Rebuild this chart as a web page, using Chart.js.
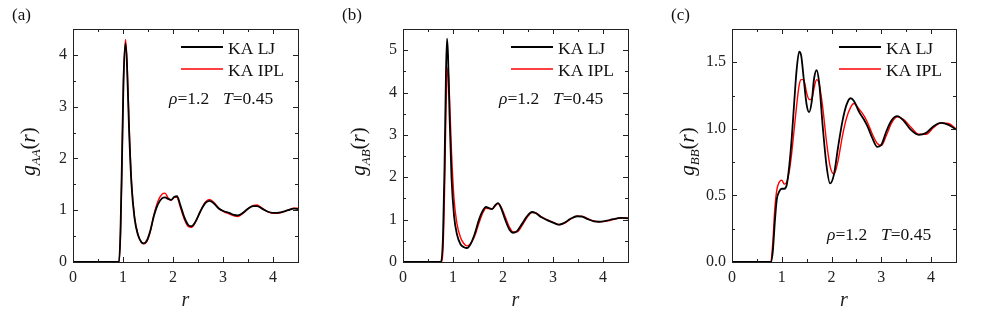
<!DOCTYPE html>
<html lang="en">
<head>
    <meta charset="UTF-8">
    <title>KA LJ vs KA IPL radial distribution functions</title>
    <script src="https://cdn.jsdelivr.net/npm/chart.js"></script>
    <style>
        body {
            margin: 0;
            padding: 0;
            background-color: #ffffff;
            width: 981px;
            height: 320px;
            position: relative;
            overflow: hidden;
        }
        canvas {
            position: absolute;
            top: 0;
        }
        #ca { left: 0; }
        #cb { left: 330px; }
        #cc { left: 659px; }
    </style>
</head>
<body>
    <canvas id="ca" width="327" height="320"></canvas>
    <canvas id="cb" width="327" height="320"></canvas>
    <canvas id="cc" width="322" height="320"></canvas>

    <script>
        // tick labels
        const xTicks = [0, 1, 2, 3, 4];
        const yTicksAA = [0, 1, 2, 3, 4];
        const yTicksAB = [0, 1, 2, 3, 4, 5];
        const yTicksBB = [0, 0.5, 1, 1.5];
        const seriesNames = ['KA LJ', 'KA IPL'];

        // (a) g_AA(r)
        const rAA = [0, 0.92, 0.95, 0.98, 1.01, 1.05, 1.08, 1.12, 1.17, 1.23,
            1.30, 1.37, 1.42, 1.48, 1.55, 1.62, 1.70, 1.78, 1.84, 1.90,
            1.96, 2.03, 2.08, 2.14, 2.22, 2.30, 2.37, 2.45, 2.55, 2.65,
            2.73, 2.82, 2.92, 3.02, 3.12, 3.22, 3.30, 3.40, 3.50, 3.60,
            3.68, 3.78, 3.90, 4.00, 4.15, 4.30, 4.42, 4.50];
        const gAA_LJ = [0, 0, 0.6, 2.0, 3.5, 4.22, 3.8, 2.6, 1.5, 0.85,
            0.52, 0.38, 0.36, 0.42, 0.62, 0.9, 1.12, 1.23, 1.25, 1.22,
            1.20, 1.26, 1.27, 1.12, 0.88, 0.72, 0.69, 0.78, 0.98, 1.14,
            1.18, 1.13, 1.03, 0.98, 0.95, 0.91, 0.90, 0.95, 1.03, 1.08,
            1.08, 1.03, 0.97, 0.95, 0.96, 1.00, 1.03, 1.02];
        const gAA_IPL = [0, 0, 0.55, 1.9, 3.5, 4.30, 3.9, 2.7, 1.55, 0.88,
            0.53, 0.38, 0.35, 0.40, 0.60, 0.92, 1.18, 1.31, 1.33, 1.24,
            1.19, 1.25, 1.25, 1.08, 0.84, 0.69, 0.67, 0.77, 0.99, 1.16,
            1.21, 1.15, 1.04, 0.97, 0.93, 0.89, 0.88, 0.94, 1.03, 1.09,
            1.10, 1.04, 0.97, 0.94, 0.95, 1.00, 1.04, 1.04];

        // (b) g_AB(r)
        const rAB = [0, 0.76, 0.80, 0.83, 0.86, 0.88, 0.90, 0.93, 0.97, 1.02,
            1.08, 1.15, 1.22, 1.28, 1.35, 1.43, 1.52, 1.60, 1.66, 1.72,
            1.78, 1.85, 1.90, 1.96, 2.05, 2.13, 2.20, 2.28, 2.38, 2.48,
            2.58, 2.66, 2.76, 2.88, 3.00, 3.12, 3.22, 3.35, 3.48, 3.58,
            3.70, 3.82, 3.92, 4.05, 4.20, 4.35, 4.50];
        const gAB_LJ = [0, 0, 0.6, 2.2, 4.5, 5.27, 4.9, 3.5, 2.0, 1.1,
            0.65, 0.42, 0.35, 0.33, 0.42, 0.65, 1.0, 1.22, 1.30, 1.27,
            1.25, 1.35, 1.39, 1.28, 0.98, 0.76, 0.69, 0.73, 0.90, 1.08,
            1.18, 1.15, 1.06, 0.99, 0.93, 0.88, 0.92, 1.02, 1.08, 1.07,
            1.01, 0.96, 0.95, 0.97, 1.01, 1.04, 1.03];
        const gAB_IPL = [0, 0, 0.3, 1.6, 3.6, 4.3, 4.59, 3.9, 2.6, 1.5,
            0.9, 0.58, 0.43, 0.38, 0.43, 0.60, 0.92, 1.17, 1.27, 1.26,
            1.25, 1.33, 1.38, 1.30, 1.05, 0.82, 0.71, 0.71, 0.86, 1.05,
            1.17, 1.16, 1.07, 1.00, 0.94, 0.88, 0.91, 1.01, 1.08, 1.08,
            1.02, 0.97, 0.95, 0.96, 1.00, 1.04, 1.04];

        // (c) g_BB(r)
        const rBB = [0, 0.78, 0.82, 0.86, 0.90, 0.95, 1.00, 1.05, 1.10, 1.15,
            1.20, 1.25, 1.30, 1.35, 1.39, 1.44, 1.50, 1.55, 1.60, 1.65,
            1.70, 1.75, 1.82, 1.90, 1.97, 2.05, 2.13, 2.22, 2.30, 2.38,
            2.45, 2.55, 2.65, 2.72, 2.82, 2.92, 3.00, 3.10, 3.20, 3.32,
            3.45, 3.60, 3.75, 3.90, 4.05, 4.20, 4.35, 4.50];
        const gBB_LJ = [0, 0, 0.08, 0.30, 0.47, 0.53, 0.55, 0.55, 0.58, 0.72,
            0.93, 1.20, 1.45, 1.58, 1.55, 1.38, 1.18, 1.125, 1.20, 1.38,
            1.44, 1.35, 1.03, 0.72, 0.59, 0.66, 0.86, 1.06, 1.18, 1.23,
            1.21, 1.13, 1.07, 1.02, 0.93, 0.865, 0.88, 0.98, 1.06, 1.095,
            1.06, 0.99, 0.955, 0.97, 1.02, 1.045, 1.03, 0.995];
        const gBB_IPL = [0, 0, 0.15, 0.40, 0.54, 0.60, 0.615, 0.585, 0.60, 0.68,
            0.82, 1.00, 1.18, 1.33, 1.37, 1.37, 1.27, 1.22, 1.22, 1.31,
            1.37, 1.34, 1.17, 0.90, 0.72, 0.66, 0.76, 0.95, 1.08, 1.16,
            1.19, 1.15, 1.10, 1.05, 0.96, 0.89, 0.875, 0.95, 1.04, 1.09,
            1.07, 1.01, 0.96, 0.96, 1.01, 1.045, 1.04, 1.0];

        const serif = "'Liberation Serif', 'DejaVu Serif', serif";
        Chart.defaults.font.family = serif;
        Chart.defaults.color = '#222';

        // frame, inward ticks on all four sides, legend, labels
        const panelDecor = {
            id: 'panelDecor',
            afterDraw(chart, args, opts) {
                const ctx = chart.ctx;
                const a = chart.chartArea;
                const xs = chart.scales.x, ys = chart.scales.y;
                ctx.save();
                ctx.strokeStyle = '#222';
                ctx.lineWidth = 1;
                ctx.strokeRect(Math.round(a.left) + 0.5, Math.round(a.top) + 0.5,
                    Math.round(a.right - a.left), Math.round(a.bottom - a.top));

                function tickSet(scale) {
                    const major = scale.ticks.map(t => t.value);
                    const step = (major[1] - major[0]) / 2;
                    const minor = [];
                    for (let v = scale.min + step; v <= scale.max + 1e-9; v += step) {
                        if (!major.some(m => Math.abs(m - v) < 1e-6)) minor.push(v);
                    }
                    return {major, minor};
                }
                ctx.beginPath();
                const xt = tickSet(xs);
                [[xt.major, 5], [xt.minor, 3]].forEach(([vals, len]) => {
                    vals.forEach(v => {
                        const px = Math.round(xs.getPixelForValue(v)) + 0.5;
                        ctx.moveTo(px, a.bottom); ctx.lineTo(px, a.bottom - len);
                        ctx.moveTo(px, a.top); ctx.lineTo(px, a.top + len);
                    });
                });
                const yt = tickSet(ys);
                [[yt.major, 5], [yt.minor, 3]].forEach(([vals, len]) => {
                    vals.forEach(v => {
                        const py = Math.round(ys.getPixelForValue(v)) + 0.5;
                        ctx.moveTo(a.left, py); ctx.lineTo(a.left + len, py);
                        ctx.moveTo(a.right, py); ctx.lineTo(a.right - len, py);
                    });
                });
                ctx.stroke();

                // legend
                ctx.font = '17.5px ' + serif;
                ctx.textBaseline = 'alphabetic';
                chart.data.datasets.forEach((ds, i) => {
                    const ly = a.top + 18 + i * 22;
                    ctx.strokeStyle = ds.borderColor;
                    ctx.lineWidth = ds.borderWidth;
                    ctx.beginPath();
                    ctx.moveTo(a.right - 117, ly);
                    ctx.lineTo(a.right - 75, ly);
                    ctx.stroke();
                    ctx.fillStyle = '#111';
                    ctx.fillText(ds.label, a.right - 70, ly + 7);
                });

                // rho and T note
                const ny = opts.noteBottom ? a.bottom - 22 : a.top + 75;
                function run(parts, x0, y0) {
                    let x = x0;
                    parts.forEach(([t, style]) => {
                        ctx.font = style + '17.5px ' + serif;
                        ctx.fillText(t, x, y0);
                        x += ctx.measureText(t).width;
                    });
                }
                run([['ρ', 'italic '], ['=1.2', '']], a.right - 129, ny);
                run([['T', 'italic '], ['=0.45', '']], a.right - 75, ny);

                // y axis title g_XY(r)
                const parts = [['g', 'italic ', 21, 0], [opts.sub, 'italic ', 13, 5],
                    ['(', '', 21, 0], ['r', 'italic ', 21, 0], [')', '', 21, 0]];
                let w = 0;
                parts.forEach(p => { ctx.font = p[1] + p[2] + 'px ' + serif; w += ctx.measureText(p[0]).width; });
                ctx.save();
                ctx.translate(a.left - 45, (a.top + a.bottom) / 2 + 6);
                ctx.rotate(-Math.PI / 2);
                let x = -w / 2;
                parts.forEach(p => {
                    ctx.font = p[1] + p[2] + 'px ' + serif;
                    ctx.fillText(p[0], x, 7 + p[3]);
                    x += ctx.measureText(p[0]).width;
                });
                ctx.restore();

                // panel letter
                ctx.font = '17px ' + serif;
                ctx.fillText(opts.letter, 12, 20);
                ctx.restore();
            }
        };

        function makeChart(id, r, lj, ipl, yMax, yTicks, decor, rightPad, fmt) {
            const ctx = document.getElementById(id).getContext('2d');
            return new Chart(ctx, {
                type: 'line',
                data: {
                    datasets: [{
                        label: seriesNames[0],
                        data: r.map((v, i) => ({x: v, y: lj[i]})),
                        borderColor: '#000000',
                        borderWidth: 1.8
                    }, {
                        label: seriesNames[1],
                        data: r.map((v, i) => ({x: v, y: ipl[i]})),
                        borderColor: '#ff0000',
                        borderWidth: 1.4
                    }]
                },
                options: {
                    responsive: false,
                    animation: false,
                    devicePixelRatio: 1,
                    cubicInterpolationMode: 'monotone',
                    elements: { point: { radius: 0 } },
                    layout: { padding: { left: 0, right: rightPad, top: 29, bottom: 0 } },
                    plugins: {
                        legend: { display: false },
                        tooltip: { enabled: false },
                        panelDecor: decor
                    },
                    scales: {
                        x: {
                            type: 'linear',
                            min: 0,
                            max: 4.5,
                            afterBuildTicks: s => { s.ticks = xTicks.map(v => ({value: v})); },
                            afterFit: s => { s.height = 58; },
                            grid: { display: false, drawTicks: false },
                            border: { display: false },
                            ticks: { font: { size: 16 }, padding: 6, maxRotation: 0 },
                            title: {
                                display: true,
                                text: 'r',
                                font: { size: 20, style: 'italic' },
                                padding: { top: 0, bottom: 7 }
                            }
                        },
                        y: {
                            min: 0,
                            max: yMax,
                            afterBuildTicks: s => { s.ticks = yTicks.map(v => ({value: v})); },
                            afterFit: s => { s.width = 73; },
                            grid: { display: false, drawTicks: false },
                            border: { display: false },
                            ticks: {
                                font: { size: 16 },
                                padding: 6,
                                callback: v => fmt(v)
                            }
                        }
                    }
                },
                plugins: [panelDecor]
            });
        }

        makeChart('ca', rAA, gAA_LJ, gAA_IPL, 4.5, yTicksAA,
            { letter: '(a)', sub: 'AA', noteBottom: false }, 29, v => String(v));
        makeChart('cb', rAB, gAB_LJ, gAB_IPL, 5.5, yTicksAB,
            { letter: '(b)', sub: 'AB', noteBottom: false }, 29, v => String(v));
        makeChart('cc', rBB, gBB_LJ, gBB_IPL, 1.75, yTicksBB,
            { letter: '(c)', sub: 'BB', noteBottom: true }, 25, v => v.toFixed(1));
    </script>
</body>
</html>
